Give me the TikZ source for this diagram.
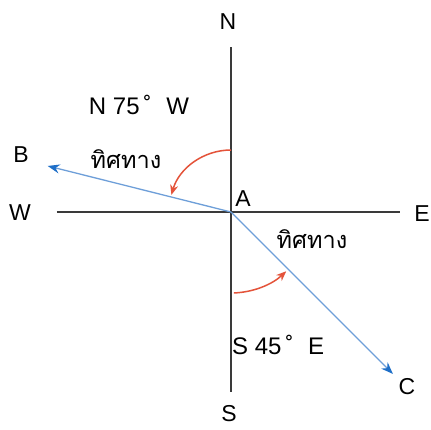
\documentclass[tikz,border=0pt]{standalone}
\usepackage{fontspec}
\setmainfont{Liberation Sans}
\newfontfamily\thaifont[Script=Thai]{Loma}
\usetikzlibrary{arrows.meta,positioning,calc}
\definecolor{axisgray}{HTML}{3A3A3A}
\definecolor{rayblue}{HTML}{6E9FD9}
\definecolor{tipblue}{HTML}{1E6FC8}
\definecolor{arcred}{HTML}{E4533A}
\tikzset{
  axis/.style={draw=axisgray,line width=2pt},
  ray/.style={draw=rayblue,line width=1.3pt,-{Stealth[length=12pt,width=9pt,color=tipblue]}},
  turn/.style={draw=arcred,line width=1.5pt,-{Stealth[length=10pt,width=8pt]}},
  compass/.style={font=\fontsize{23}{26}\selectfont,inner sep=0pt},
  bearing/.style={font=\fontsize{24}{28}\selectfont,inner sep=0pt},
  thaitext/.style={font=\thaifont\fontsize{23.5}{28}\selectfont,inner sep=0pt}
}
\begin{document}
\begin{tikzpicture}[x=1pt,y=1pt]
    \useasboundingbox (-231,-217) rectangle (200,212);
    \fill[white] (-231,-217) rectangle (200,212);
    % axes
    \coordinate (A) at (0,0);
    \coordinate (ntop) at (0,165);
    \coordinate (sbot) at (0,-180);
    \coordinate (wend) at (-174,0);
    \coordinate (eend) at (169,0);
    \draw[axis] (ntop) -- (sbot);
    \draw[axis] (wend) -- (eend);
    \node[compass] (N) at (-3,190) {N};
    \node[compass] (S) at (-2,-202) {S};
    \node[compass] (W) at (-211,-1) {W};
    \node[compass] (E) at (191,-2) {E};
    \node[compass] (Alabel) at (12,13) {A};
    % rays to B and C
    \coordinate (Bend) at (165.9:189);
    \coordinate (Cend) at (-45:229);
    \draw[ray] (A) -- (Bend);
    \draw[ray] (A) -- (Cend);
    \node[compass] (B) at (-210,57) {B};
    \node[compass] (C) at (176,-175) {C};
    % bearings
    \coordinate (nstart) at (90:62);
    \coordinate (sstart) at (-88:81);
    \draw[turn] (nstart) arc[start angle=90,end angle=164,radius=62];
    \draw[turn] (sstart) arc[start angle=-88,end angle=-47,radius=81];
    \node[bearing] (bearB) at (-92,107) {N 75\,˚\,\, W};
    \node[bearing,anchor=west] (bearC) at (1,-133) {S 45\,˚\,\, E};
    \node[thaitext] (dirB) at (-105,53) {ทิศทาง};
    \node[thaitext] (dirC) at (81,-27) {ทิศทาง};
  \end{tikzpicture}
\end{document}
